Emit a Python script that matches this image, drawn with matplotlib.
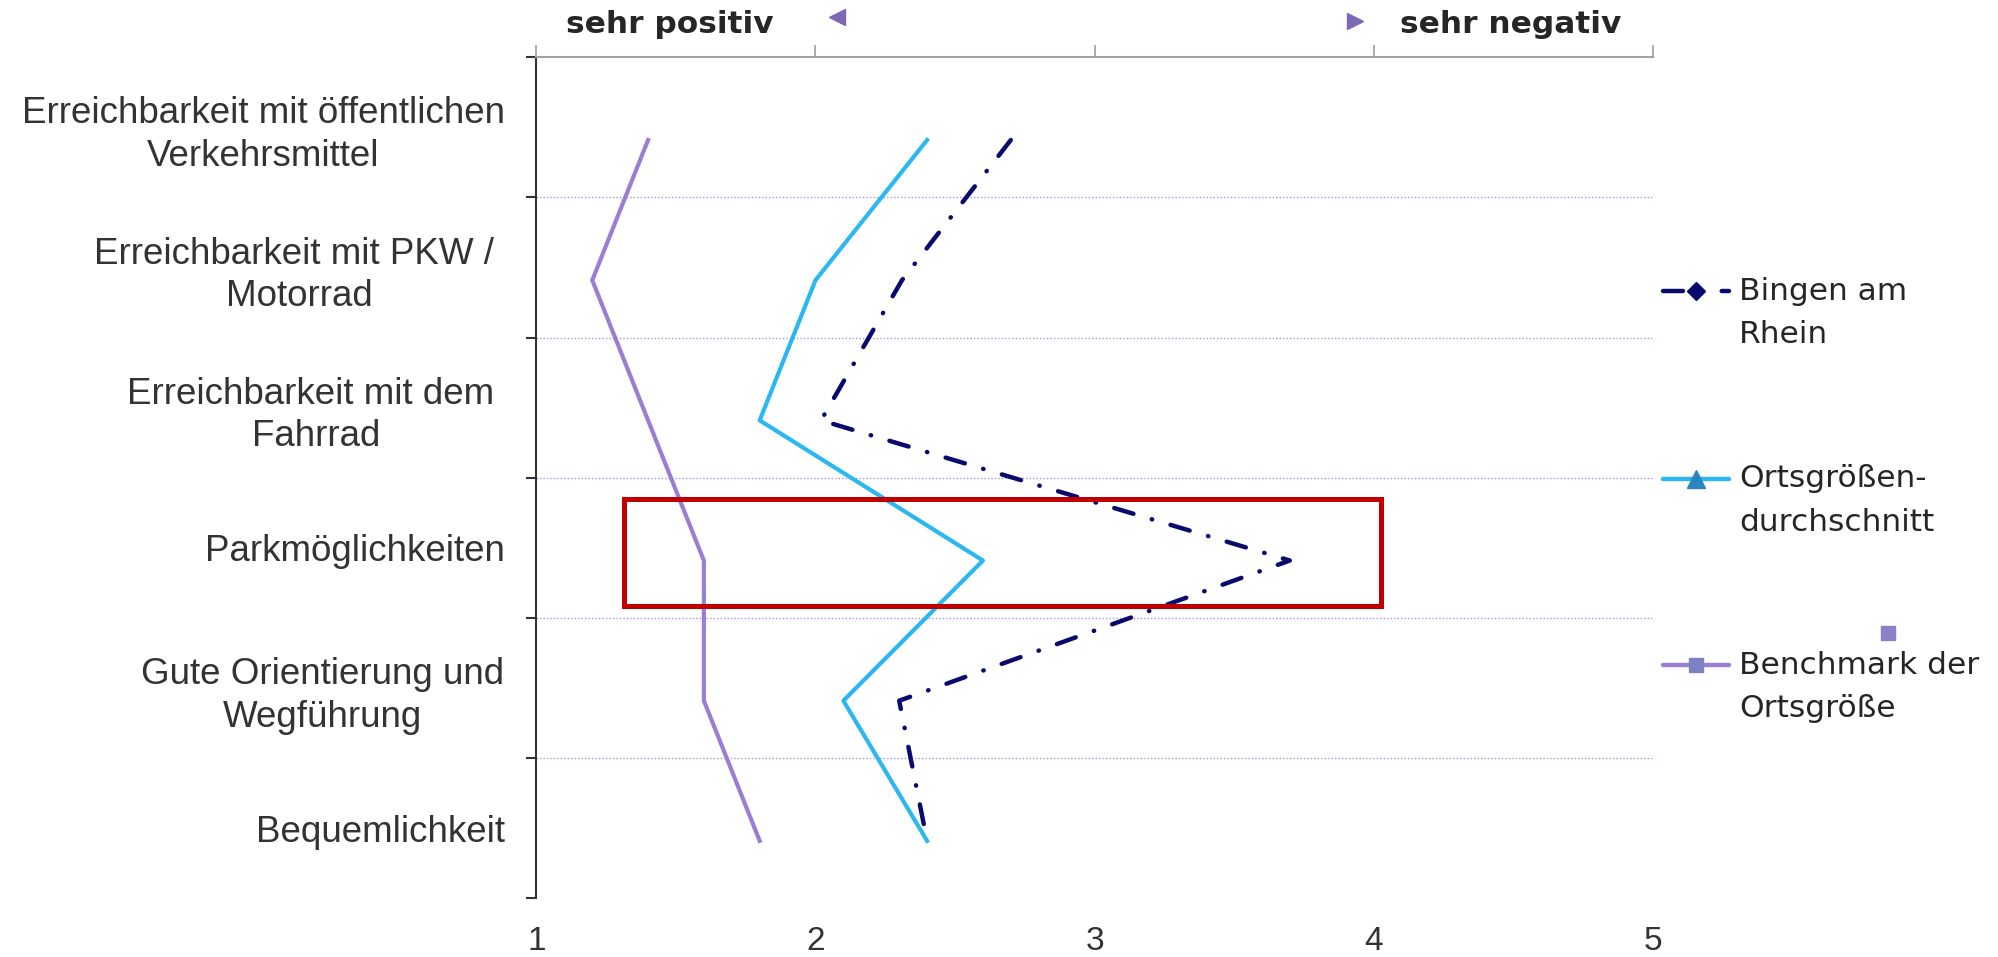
import matplotlib
matplotlib.use('Agg')
import matplotlib.pyplot as plt
from matplotlib.lines import Line2D
from matplotlib.patches import Rectangle
import numpy as np

# ---- data ----
categories = [
    "Erreichbarkeit mit öffentlichen\nVerkehrsmittel",
    "Erreichbarkeit mit PKW / \nMotorrad",
    "Erreichbarkeit mit dem \nFahrrad",
    "Parkmöglichkeiten",
    "Gute Orientierung und\nWegführung",
    "Bequemlichkeit",
]
bingen = [2.70, 2.31, 2.02, 3.70, 2.30, 2.40]
ortsgroessen = [2.40, 2.00, 1.80, 2.60, 2.10, 2.40]
benchmark = [1.40, 1.20, 1.40, 1.60, 1.60, 1.80]
x_ticks = [1, 2, 3, 4, 5]
series_labels = ["Bingen am\nRhein", "Ortsgrößen-\ndurchschnitt", "Benchmark der\nOrtsgröße"]
header_left = "sehr positiv"
header_right = "sehr negativ"

# ---- styles ----
NAVY = '#0A0A6E'
CYAN = '#2BB8F0'
PURPLE = '#9B7ED3'
RED = '#C00000'
TXT = '#333333'
BINGEN_LS = (0, (4.5, 4.3, 0.1, 4.3))

fig = plt.figure(figsize=(19.98, 9.57), dpi=100)
ax = fig.add_axes([0.2685, 0.0613, 0.5586, 0.8788])

n = len(categories)
ypos = np.arange(n) + 0.59

ax.plot(benchmark, ypos, color=PURPLE, lw=3, zorder=3)
ax.plot(ortsgroessen, ypos, color=CYAN, lw=3, zorder=3)
ax.plot(bingen, ypos, color=NAVY, lw=3.2, linestyle=BINGEN_LS,
        dash_capstyle='round', zorder=4)

# dotted separators between categories
bounds = np.arange(1, n)
ax.hlines(bounds, 1, 5, colors='#A595E0', lw=1.0, linestyles=(0, (1, 1.5)), zorder=1)

# highlight box
ax.add_patch(Rectangle((1.315, 3.154), 2.71, 0.763, fill=False,
                       edgecolor=RED, lw=3.6, zorder=6))

ax.set_xlim(1, 5)
ax.set_ylim(n, 0)

ax.set_yticks(np.arange(n + 1))
ax.set_yticklabels([])
ax.set_yticks(np.arange(n) + 0.5, minor=True)
ax.set_yticklabels(categories, minor=True, fontsize=26.5, color=TXT,
                   family=['Liberation Sans', 'DejaVu Sans'])
for lbl in ax.get_yticklabels(minor=True):
    lbl.set_multialignment('center')
    lbl.set_linespacing(1.28)
ax.tick_params(axis='y', which='major', length=7, width=1.5, color='#333333', direction='out')
ax.tick_params(axis='y', which='minor', length=0, pad=23)

ax.set_xticks(x_ticks)
ax.set_xticklabels([str(v) for v in x_ticks], fontsize=24, color=TXT,
                   family=['Liberation Sans Narrow', 'Liberation Sans', 'DejaVu Sans'])
ax.tick_params(axis='x', bottom=False, top=True, labelbottom=True, labeltop=False,
               length=9, width=1.2, color='#A0A0A0', direction='out', pad=11)

for s in ['right', 'bottom']:
    ax.spines[s].set_visible(False)
ax.spines['top'].set_color('#A0A0A0')
ax.spines['top'].set_linewidth(1.5)
ax.spines['left'].set_color('#333333')
ax.spines['left'].set_linewidth(1.5)

# header
fig.text(0.335, 0.974, header_left, ha='center', va='center', fontsize=22.5,
         fontweight='bold', color='#262626', family='DejaVu Sans')
fig.text(0.756, 0.974, header_right, ha='center', va='center', fontsize=22.5,
         fontweight='bold', color='#262626', family='DejaVu Sans')
fig.add_artist(Line2D([0.419], [0.982], marker='<', ms=11, color='#7C68B5',
                      linestyle='none', transform=fig.transFigure))
fig.add_artist(Line2D([0.678], [0.978], marker='>', ms=11, color='#7C68B5',
                      linestyle='none', transform=fig.transFigure))

# legend (drawn manually so handles align with first text line)
hx0, hx1, hm = 0.8323, 0.8654, 0.8488
tx = 0.8704
handle_y = [0.6964, 0.4995, 0.3051]
text_y = [0.673, 0.477, 0.282]
handles = [
    dict(color=NAVY, ls=BINGEN_LS, marker='D', mfc=NAVY, mec=NAVY, ms=9),
    dict(color=CYAN, ls='-', marker='^', mfc='#2A86C2', mec='#2A86C2', ms=13),
    dict(color=PURPLE, ls='-', marker='s', mfc='#7F80BF', mec='#7F80BF', ms=10),
]
for hy, ty, lab, h in zip(handle_y, text_y, series_labels, handles):
    fig.add_artist(Line2D([hx0, hx1], [hy, hy], color=h['color'], lw=3.2,
                          linestyle=h['ls'], dash_capstyle='round',
                          solid_capstyle='round', transform=fig.transFigure))
    fig.add_artist(Line2D([hm], [hy], marker=h['marker'], mfc=h['mfc'],
                          mec=h['mec'], ms=h['ms'], linestyle='none',
                          transform=fig.transFigure))
    fig.text(tx, ty, lab, ha='left', va='center', fontsize=22.5, color='#262626',
             family='DejaVu Sans', linespacing=1.62)

# stray marker seen in the original
fig.add_artist(Line2D([0.945], [0.3386], marker='s', ms=10, mfc='#8E80C8',
                      mec='#8E80C8', linestyle='none', transform=fig.transFigure))

fig.savefig('out.png', dpi=100)
